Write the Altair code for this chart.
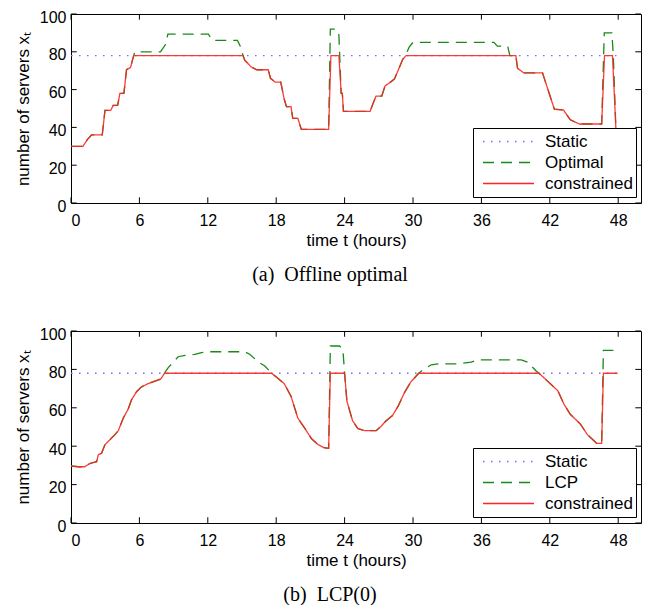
import altair as alt
import pandas as pd

# ---------------- data ----------------
hour_ticks = [0, 6, 12, 18, 24, 30, 36, 42, 48]
server_ticks = [0, 20, 40, 60, 80, 100]

# (a) Offline optimal
static_a = [(0, 78), (48, 78)]
optimal_a = [
    (0, 30), (1.05, 30), (1.45, 33.7), (1.8, 36), (2.74, 36), (2.98, 49), (3.48, 49),
    (3.71, 51.7), (4.09, 51.7), (4.29, 58), (4.64, 58), (4.87, 70.5), (5.22, 71.7),
    (5.5, 78), (5.6, 80), (7.85, 80), (8.3, 84), (8.5, 89.3), (12.05, 89.3), (12.4, 86),
    (14.6, 86), (14.9, 82.3), (15.09, 78), (15.24, 75.6), (15.8, 72), (16.3, 70.5),
    (17.3, 70.5), (17.5, 66), (17.9, 64), (18.4, 64), (18.7, 55), (18.9, 51), (19.3, 51),
    (19.45, 44.8), (19.9, 44.8), (20.2, 39), (22.6, 39), (22.75, 92), (23.3, 92),
    (23.5, 89), (23.7, 58), (23.8, 58), (23.9, 48.5), (26.24, 48.5), (26.47, 52.3),
    (26.76, 56.6), (27.26, 56.6), (27.55, 62), (27.93, 63.5), (28.37, 65.6), (28.72, 70.5),
    (29.1, 76), (29.35, 78), (29.65, 82.3), (30.0, 85), (37.1, 85), (37.4, 83), (38.3, 83),
    (38.5, 78), (39.02, 78), (39.17, 71.3), (39.7, 68.9), (41.36, 68.9), (41.65, 63.5),
    (42.4, 49.6), (43.2, 49.2), (43.8, 44), (44.6, 41.8), (46.55, 41.8), (46.78, 90),
    (47.45, 90), (47.57, 78), (47.8, 39), (47.9, 30),
]
constrained_a = [
    (0, 30), (1.05, 30), (1.45, 33.7), (1.8, 36), (2.74, 36), (2.98, 49), (3.48, 49),
    (3.71, 51.7), (4.09, 51.7), (4.29, 58), (4.64, 58), (4.87, 70.5), (5.22, 71.7),
    (5.5, 78), (15.09, 78), (15.24, 75.6), (15.8, 72), (16.3, 70.5), (17.3, 70.5),
    (17.5, 66), (17.9, 64), (18.4, 64), (18.7, 55), (18.9, 51), (19.3, 51), (19.45, 44.8),
    (19.9, 44.8), (20.2, 39), (22.6, 39), (22.8, 78), (23.5, 78), (23.7, 58), (23.8, 58),
    (23.9, 48.5), (26.24, 48.5), (26.47, 52.3), (26.76, 56.6), (27.26, 56.6), (27.55, 62),
    (27.93, 63.5), (28.37, 65.6), (28.72, 70.5), (29.1, 76), (29.4, 78), (39.02, 78),
    (39.17, 71.3), (39.7, 68.9), (41.36, 68.9), (41.65, 63.5), (42.4, 49.6), (43.2, 49.2),
    (43.8, 44), (44.6, 41.8), (46.55, 41.8), (46.8, 78), (47.5, 78), (47.8, 39), (47.9, 30),
]

# (b) LCP(0)
static_b = [(0, 78), (48, 78)]
lcp_b = [
    (0, 29.7), (0.64, 29.3), (1.2, 29.3), (1.66, 31), (2.25, 31.9), (2.4, 35.6), (2.68, 36.3),
    (2.98, 40.8), (3.42, 43.4), (3.85, 46), (4.15, 48.1), (4.58, 54.6), (5.02, 59.4),
    (5.31, 64.2), (5.75, 68.4), (6.19, 70.9), (6.77, 72.6), (7.36, 73.9), (7.8, 74.8),
    (7.95, 75.6), (8.2, 78), (8.53, 80.9), (9.4, 86.6), (10, 87.3), (10.86, 87.8),
    (11.45, 88.7), (12, 89.2), (15.24, 89.2), (15.7, 87.8), (16.4, 84), (17, 81.8),
    (17.6, 78), (18.1, 75.6), (18.7, 72.6), (19.3, 66), (19.9, 54.6), (20.5, 49.4),
    (21.1, 43.9), (21.66, 40.9), (22.2, 39.2), (22.6, 38.9), (22.75, 92.2), (23.55, 92.2),
    (23.85, 90.4), (24.0, 78), (24.2, 63.5), (24.7, 53.3), (25.16, 49.2), (25.74, 48.1),
    (26.77, 48.1), (27.2, 50.4), (27.6, 53), (28.2, 56), (28.7, 60.9), (29.25, 67.9),
    (29.8, 73.4), (30.5, 78), (31, 80.3), (31.6, 82.4), (32.2, 82.9), (33.9, 82.9),
    (35.1, 83.8), (35.7, 85), (39.5, 85), (40.06, 83.8), (40.8, 79.2), (41.06, 78),
    (41.8, 73.9), (42.7, 68.9), (43.25, 61.8), (43.8, 56.6), (44.7, 51.4), (45.3, 46),
    (45.9, 42.7), (46.1, 41.5), (46.55, 41.5), (46.7, 89.9), (47.95, 89.9),
]
constrained_b = [
    (0, 29.7), (0.64, 29.3), (1.2, 29.3), (1.66, 31), (2.25, 31.9), (2.4, 35.6), (2.68, 36.3),
    (2.98, 40.8), (3.42, 43.4), (3.85, 46), (4.15, 48.1), (4.58, 54.6), (5.02, 59.4),
    (5.31, 64.2), (5.75, 68.4), (6.19, 70.9), (6.77, 72.6), (7.36, 73.9), (7.8, 74.8),
    (7.95, 75.6), (8.2, 78), (17.6, 78), (18.1, 75.6), (18.7, 72.6), (19.3, 66),
    (19.9, 54.6), (20.5, 49.4), (21.1, 43.9), (21.66, 40.9), (22.2, 39.2), (22.6, 38.9),
    (22.75, 78), (24.0, 78), (24.2, 63.5), (24.7, 53.3), (25.16, 49.2), (25.74, 48.1),
    (26.77, 48.1), (27.2, 50.4), (27.6, 53), (28.2, 56), (28.7, 60.9), (29.25, 67.9),
    (29.8, 73.4), (30.5, 78), (41.06, 78), (41.8, 73.9), (42.7, 68.9), (43.25, 61.8),
    (43.8, 56.6), (44.7, 51.4), (45.3, 46), (45.9, 42.7), (46.1, 41.5), (46.55, 41.5),
    (46.7, 78), (47.95, 78),
]

# ---------------- styling ----------------
SANS = "Liberation Sans"
SERIF = "Liberation Serif"
BLUE = "#6f6fff"
GREEN = "#178a17"
RED = "#ff2424"
X_DOMAIN = [0, 50]
Y_DOMAIN = [0, 100]
PW = 570


def to_df(pairs, name):
    return pd.DataFrame({
        "t": [p[0] for p in pairs],
        "x": [p[1] for p in pairs],
        "series": name,
        "order": list(range(len(pairs))),
    })


def panel(static, dyn, dyn_name, con, caption, ph):
    names = ["Static", dyn_name, "constrained"]
    df = pd.concat([to_df(static, names[0]), to_df(dyn, names[1]), to_df(con, names[2])],
                   ignore_index=True)

    xenc = alt.X("t:Q", scale=alt.Scale(domain=X_DOMAIN, nice=False, zero=False),
                 axis=alt.Axis(values=hour_ticks, title="time t (hours)", labelPadding=9,
                               titlePadding=4))
    yenc = alt.Y("x:Q", scale=alt.Scale(domain=Y_DOMAIN, nice=False),
                 axis=alt.Axis(values=server_ticks, title="number of servers x\u209c",
                               labelPadding=5, titlePadding=7, labelOffset=3))

    leg = alt.Legend(
        title=None, orient="none", legendX=402, legendY=ph - 75,
        symbolType="stroke", symbolSize=2601, symbolStrokeWidth=1.3,
        clipHeight=21, symbolOffset=6, labelOffset=10, padding=3, rowPadding=0,
        strokeColor="black", fillColor="white", cornerRadius=0,
        labelFont=SANS, labelFontSize=17, labelColor="black",
    )
    color = alt.Color("series:N", scale=alt.Scale(domain=names, range=[BLUE, GREEN, RED]),
                      legend=leg)
    dash = alt.StrokeDash("series:N",
                          scale=alt.Scale(domain=names, range=[[1.5, 6.5], [11, 7], [1, 0]]),
                          legend=leg)

    layers = []
    for nm, w, op in [(names[0], 1.3, 1.0), (names[1], 1.3, 1.0), (names[2], 1.3, 0.9)]:
        layers.append(
            alt.Chart(df).transform_filter(alt.datum.series == nm)
            .mark_line(strokeWidth=w, opacity=op, clip=True)
            .encode(x=xenc, y=yenc, color=color, strokeDash=dash, order="order:Q")
        )

    # inward MATLAB-style tick marks
    xt = pd.DataFrame({"t": hour_ticks * 2,
                       "x": [0] * len(hour_ticks) + [100] * len(hour_ticks),
                       "x2": [3] * len(hour_ticks) + [97] * len(hour_ticks)})
    yt = pd.DataFrame({"t": [0] * len(server_ticks) + [50] * len(server_ticks),
                       "t2": [0.5] * len(server_ticks) + [49.5] * len(server_ticks),
                       "x": server_ticks * 2})
    xticks = alt.Chart(xt).mark_rule(color="black", strokeWidth=1).encode(
        x=xenc, y=yenc, y2="x2:Q")
    yticks = alt.Chart(yt).mark_rule(color="black", strokeWidth=1).encode(
        x=xenc, x2="t2:Q", y=yenc)

    return alt.layer(*layers, xticks, yticks).properties(
        width=PW, height=ph,
        title=alt.TitleParams(caption, orient="bottom", font=SERIF, fontSize=20,
                              fontWeight="normal", color="black", offset=17, dx=-26,
                              anchor="middle"),
    )


top = panel(static_a, optimal_a, "Optimal", constrained_a, "(a)\u2002Offline optimal", 189)
bottom = panel(static_b, lcp_b, "LCP", constrained_b, "(b)\u2002LCP(0)", 192)

chart = (
    alt.vconcat(top, bottom, spacing=39)
    .resolve_scale(color="independent", strokeDash="independent")
    .resolve_legend(color="independent", strokeDash="independent")
    .properties(padding={"left": 5, "top": 0, "right": 0, "bottom": 0})
    .configure_view(stroke="black", strokeWidth=1)
    .configure_axis(labelFont=SANS, labelFontSize=16, labelColor="black",
                    titleFont=SANS, titleFontSize=17, titleFontWeight="normal",
                    titleColor="black", domain=False, ticks=False, grid=False)
)

chart.save("out.html", embed_options={"renderer": "svg", "actions": False})
